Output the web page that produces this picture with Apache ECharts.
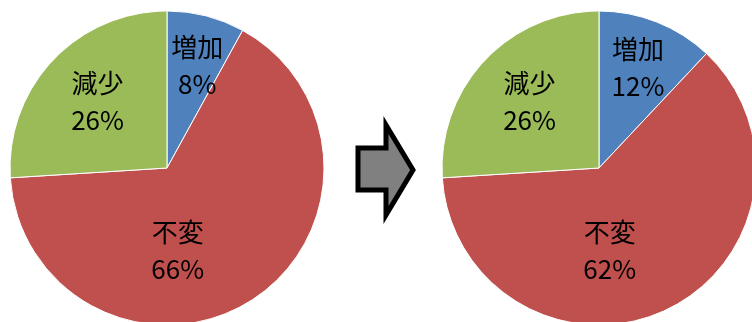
<!DOCTYPE html>
<html>
<head>
<meta charset="utf-8">
<script src="https://cdn.jsdelivr.net/npm/echarts@6/dist/echarts.min.js"></script>
<style>html,body{margin:0;padding:0;background:#fff;}#c{width:752px;height:322px;}</style>
</head>
<body>
<div id="c"></div>
<script>
const categories = ['増加', '不変', '減少'];
const beforeValues = [8, 66, 26];
const afterValues = [12, 62, 26];
const colors = ['#4F81BD', '#C0504D', '#9BBB59'];

const beforeOffsets = [[10, -23], [-33, 14], [-10, -11]];
const afterOffsets = [[9, -25], [-24, 9], [-10, -11]];

function makeSeries(values, center, offsets) {
  return {
    type: 'pie',
    center: center,
    radius: 157,
    startAngle: 90,
    clockwise: true,
    animation: false,
    silent: true,
    itemStyle: { borderColor: '#ffffff', borderWidth: 1 },
    label: {
      show: true,
      position: 'inside',
      formatter: '{b}\n{c}%',
      color: '#000',
      fontSize: 26,
      lineHeight: 37,
      fontFamily: '"Noto Sans CJK JP", "Noto Sans", sans-serif'
    },
    labelLine: { show: false },
    data: categories.map((n, i) => ({
      name: n,
      value: values[i],
      itemStyle: { color: colors[i] },
      label: { offset: offsets[i] }
    }))
  };
}

const chart = echarts.init(document.getElementById('c'), null, { renderer: 'canvas' });
chart.setOption({
  backgroundColor: '#ffffff',
  animation: false,
  series: [
    makeSeries(beforeValues, [167, 168], beforeOffsets),
    makeSeries(afterValues, [599, 168], afterOffsets)
  ],
  graphic: [{
    type: 'polygon',
    shape: { points: [[358, 148], [386, 148], [386, 125], [413, 170], [386, 215], [386, 190], [358, 190]] },
    style: { fill: '#808080', stroke: '#000000', lineWidth: 5, lineJoin: 'miter' }
  }]
});
</script>
</body>
</html>
